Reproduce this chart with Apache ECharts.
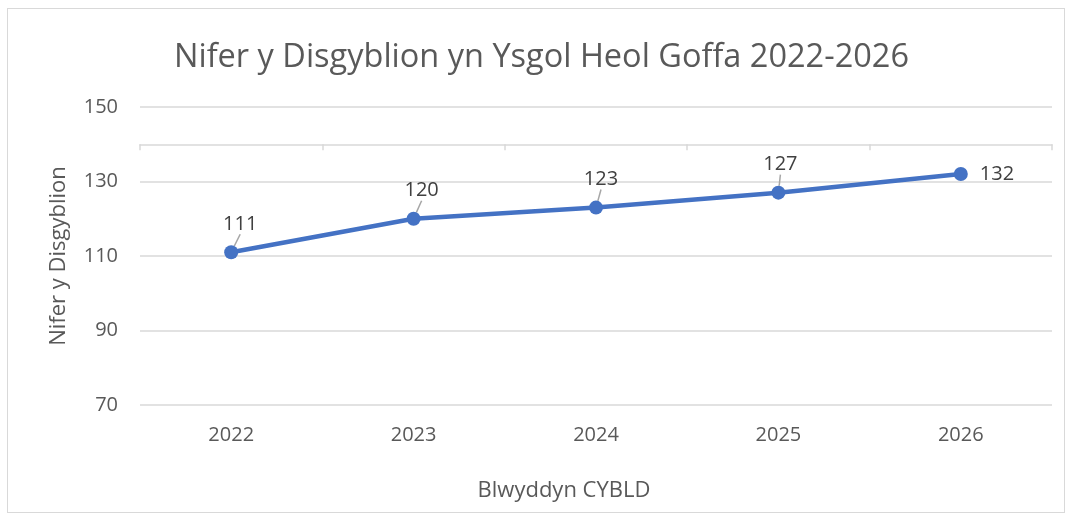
<!DOCTYPE html>
<html>
<head>
<meta charset="utf-8">
<script src="https://cdn.jsdelivr.net/npm/echarts@6/dist/echarts.min.js"></script>
<style>
  html, body { margin: 0; padding: 0; background: #fff; }
  #frame { position: absolute; left: 7px; top: 8px; width: 1058px; height: 505px; border: 1px solid #d9d9d9; box-sizing: border-box; }
  #chart { position: absolute; left: 0; top: 0; width: 1067px; height: 515px; }
</style>
</head>
<body>
<div id="frame"></div>
<div id="chart"></div>
<script>
// data
const years = ['2022', '2023', '2024', '2025', '2026']
const pupils = [111, 120, 123, 127, 132]
const yTicks = { min: 70, max: 150, interval: 20 }
const axisCross = 140 // the category axis line sits at this value

const font = '"Open Sans", "Noto Sans", sans-serif'
const grey = '#595959'

const chart = echarts.init(document.getElementById('chart'))

const gridTop = 107, gridBottom = 515 - 405
const pxPerUnit = (515 - gridTop - gridBottom) / (yTicks.max - yTicks.min)
const lastIdx = pupils.length - 1

chart.setOption({
  animation: false,
  textStyle: { fontFamily: font },
  title: {
    text: 'Nifer y Disgyblion yn Ysgol Heol Goffa 2022-2026',
    left: 174,
    top: 36,
    padding: [5, 0, 5, 0],
    textStyle: { fontSize: 32.5, fontWeight: 'normal', color: grey, fontFamily: font }
  },
  grid: { left: 140, right: 1067 - 1052, top: gridTop, bottom: gridBottom },
  xAxis: [
    {
      type: 'category',
      data: years,
      boundaryGap: true,
      axisLine: { show: false },
      axisTick: { show: false },
      axisLabel: { fontSize: 20, color: grey, margin: 20 },
      name: 'Blwyddyn CYBLD',
      nameLocation: 'middle',
      nameGap: 75,
      nameTextStyle: { fontSize: 22, color: grey, padding: [0, 64, 0, 0] }
    },
    {
      // the axis line crossing inside the plot, with its tick marks
      type: 'category',
      data: years,
      position: 'top',
      offset: -(yTicks.max - axisCross) * pxPerUnit,
      boundaryGap: true,
      axisLine: { show: true, lineStyle: { color: '#d9d9d9', width: 1.5 } },
      axisTick: { show: true, inside: true, length: 6, lineStyle: { color: '#d9d9d9', width: 1.5 } },
      axisLabel: { show: false },
      splitLine: { show: false }
    }
  ],
  yAxis: {
    type: 'value',
    min: yTicks.min,
    max: yTicks.max,
    interval: yTicks.interval,
    axisLine: { show: false },
    axisTick: { show: false },
    axisLabel: { fontSize: 20, color: grey, margin: 22 },
    splitLine: { lineStyle: { color: '#d9d9d9', width: 1.5 } },
    name: 'Nifer y Disgyblion',
    nameLocation: 'middle',
    nameGap: 70,
    nameTextStyle: { fontSize: 22, color: grey }
  },
  series: [
    {
      type: 'line',
      data: pupils.map((v, i) => i === lastIdx
        ? { value: v, label: { position: 'right', distance: 12 }, labelLine: { show: false } }
        : v),
      symbol: 'circle',
      symbolSize: 14,
      lineStyle: { color: '#4472C4', width: 4.5 },
      itemStyle: { color: '#4472C4' },
      label: {
        show: true,
        position: 'top',
        distance: 11,
        fontSize: 20,
        color: '#404040'
      },
      labelLayout: params => params.dataIndex === lastIdx
        ? { dx: 0 }
        : { dx: [9, 8, 5, 2][params.dataIndex] },
      labelLine: { show: true, length2: 0, lineStyle: { color: '#a6a6a6', width: 1.5 } }
    }
  ]
})
</script>
</body>
</html>
